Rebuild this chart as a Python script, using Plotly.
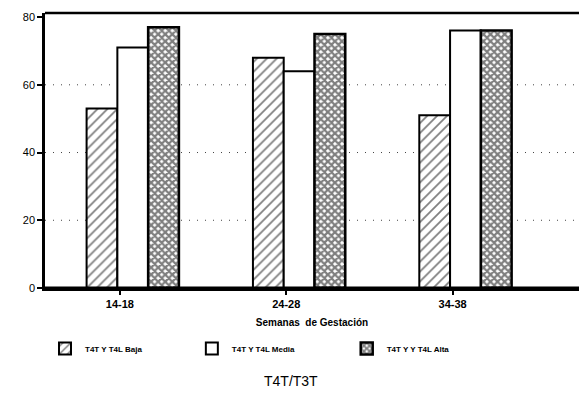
import plotly.graph_objects as go

categories = ["14-18", "24-28", "34-38"]
baja = [53, 68, 51]
media = [71, 64, 76]
alta = [77, 75, 76]
series_names = ["T4T Y T4L Baja", "T4T Y T4L Media", "T4T Y Y T4L Alta"]
grid_values = [20, 40, 60]

fig = go.Figure()
bw = 0.185
fig.add_trace(go.Bar(x=categories, y=baja, name=series_names[0], width=bw, offset=-0.20, legend="legend",
                     marker=dict(color="white", line=dict(color="black", width=2),
                                 pattern=dict(shape="/", fgcolor="black", bgcolor="white", size=7, solidity=0.25))))
fig.add_trace(go.Bar(x=categories, y=media, name=series_names[1], width=bw, offset=-0.015, legend="legend2",
                     marker=dict(color="white", line=dict(color="black", width=2))))
fig.add_trace(go.Bar(x=categories, y=alta, name=series_names[2], width=bw, offset=0.17, legend="legend3",
                     marker=dict(color="white", line=dict(color="black", width=2.5),
                                 pattern=dict(shape="x", fgcolor="black", bgcolor="white", size=5, solidity=0.7))))

for g in grid_values:
    fig.add_hline(y=g, line=dict(color="#444", width=1, dash="1px,7px"), layer="below")

leg = dict(orientation="h", y=-0.22, xanchor="left", yanchor="middle",
           font=dict(size=8, family="Liberation Sans", weight="bold"), itemwidth=30, bgcolor="rgba(0,0,0,0)")

fig.update_layout(
    width=579, height=405,
    margin=dict(l=45, r=0, t=13, b=117),
    paper_bgcolor="white", plot_bgcolor="white",
    barmode="overlay",
    font=dict(family="Liberation Sans", color="black"),
    showlegend=True,
    legend=dict(leg, x=0.0),
    legend2=dict(leg, x=0.275),
    legend3=dict(leg, x=0.565),
    xaxis=dict(type="category", range=[-0.45, 2.76], showline=True, linecolor="black", linewidth=3,
               ticks="outside", ticklen=4, tickwidth=1.5, tickcolor="black",
               tickfont=dict(size=11, family="Liberation Sans"),
               title=dict(text="<b>Semanas  de Gestación</b>", font=dict(size=10), standoff=10),
               mirror=False),
    yaxis=dict(range=[0, 81.2], tickvals=[0, 20, 40, 60, 80], showline=True, linecolor="black", linewidth=2.5,
               ticks="outside", ticklen=5, tickwidth=1.5, tickcolor="black",
               tickfont=dict(size=11, family="Liberation Sans"),
               showgrid=False, zeroline=False, mirror=False),
)
fig.update_xaxes(tickprefix="<b>", ticksuffix="</b>")
fig.update_yaxes(tickprefix="<b>", ticksuffix="</b>")
fig.add_shape(type="line", xref="paper", yref="paper", x0=0, x1=1, y0=1, y1=1,
              line=dict(color="black", width=2.5))
fig.add_shape(type="line", xref="paper", yref="paper", x0=0, x1=1, y0=0, y1=0,
              line=dict(color="black", width=3))
fig.add_annotation(text="T4T/T3T", xref="paper", yref="paper", x=0.46, y=-0.375,
                   showarrow=False, font=dict(size=14, family="Liberation Sans"))

fig.write_html("out.html")
